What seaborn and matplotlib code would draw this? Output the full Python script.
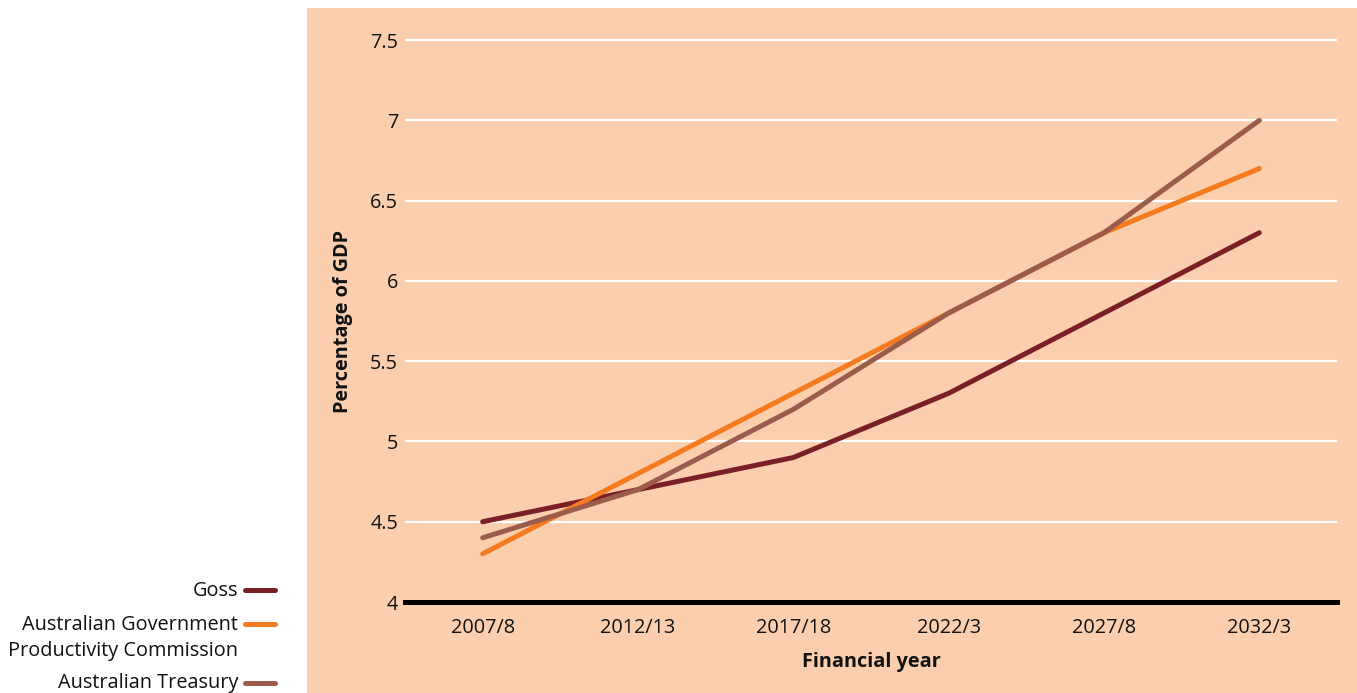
import matplotlib
matplotlib.use("Agg")
import matplotlib.pyplot as plt
from matplotlib.patches import Rectangle
from matplotlib.lines import Line2D
import seaborn as sns
import pandas as pd

years = ["2007/8", "2012/13", "2017/18", "2022/3", "2027/8", "2032/3"]
goss = [4.5, 4.7, 4.9, 5.3, 5.8, 6.3]
productivity = [4.3, 4.8, 5.3, 5.8, 6.3, 6.7]
treasury = [4.4, 4.7, 5.2, 5.8, 6.3, 7.0]
series_names = ["Goss", "Australian Government Productivity Commission", "Australian Treasury"]
legend_lines = [["Goss"], ["Australian Government", "Productivity Commission"], ["Australian Treasury"]]
y_ticks = [4, 4.5, 5, 5.5, 6, 6.5, 7, 7.5]
y_tick_labels = ["4", "4.5", "5", "5.5", "6", "6.5", "7", "7.5"]

peach = "#FBCFAE"
colors = ["#7A1F26", "#F47B20", "#9C5C4C"]
ink = "#111111"
fs = 14.3

df = pd.DataFrame({
    "year": years * 3,
    "value": goss + productivity + treasury,
    "series": [series_names[0]] * 6 + [series_names[1]] * 6 + [series_names[2]] * 6,
})

sns.set_theme(style="white")
plt.rcParams["font.family"] = ["Open Sans", "DejaVu Sans"]

W, H = 1357, 693
fig = plt.figure(figsize=(W / 100, H / 100), dpi=100)
fig.patch.set_facecolor("white")
# peach panel behind the plot area, tick labels and axis titles
fig.add_artist(Rectangle((307 / W, 0), 1 - 307 / W, 1 - 8 / H,
                         transform=fig.transFigure, facecolor=peach,
                         edgecolor="none", zorder=-10))

ax = fig.add_axes([405 / W, 1 - 602 / H, (1337 - 405) / W, (602 - 8) / H])
ax.set_facecolor("none")
ax.set_zorder(1)

sns.lineplot(data=df, x="year", y="value", hue="series", palette=colors,
             sort=False, linewidth=3.6, ax=ax, legend=False, zorder=3)
for line in ax.lines:
    line.set_solid_capstyle("round")

ax.set_xlim(-0.5, len(years) - 0.5)
ax.set_ylim(4, 7.7)
ax.set_yticks(y_ticks)
ax.set_yticklabels(y_tick_labels)
ax.yaxis.grid(True, color="white", linewidth=1.6)
ax.set_axisbelow(True)
for s in ["top", "right", "left"]:
    ax.spines[s].set_visible(False)
ax.spines["bottom"].set_color("black")
ax.spines["bottom"].set_linewidth(3.6)
ax.spines["bottom"].set_zorder(4)
ax.tick_params(axis="both", length=0, labelsize=fs, colors=ink)
ax.tick_params(axis="y", pad=5)
ax.tick_params(axis="x", pad=11.5)

ax.set_xlabel("Financial year", fontsize=fs, fontweight="bold", color=ink)
ax.set_ylabel("Percentage of GDP", fontsize=fs, fontweight="bold", color=ink)
ax.xaxis.set_label_coords(0.5, -0.085)
ax.yaxis.set_label_coords(-0.0555, 0.473)

# legend: right-aligned labels, line key beside the first text line
baselines = [[596], [630, 656], [688]]
key_rows = [590, 624, 683]
for lines, base, color, row in zip(legend_lines, baselines, colors, key_rows):
    for txt, b in zip(lines, base):
        fig.text(238 / W, 1 - b / H, txt, ha="right", va="baseline",
                 fontsize=fs, color=ink, transform=fig.transFigure)
    fig.add_artist(Line2D([245 / W, 275 / W], [1 - row / H, 1 - row / H],
                          color=color, linewidth=3.6,
                          transform=fig.transFigure))

fig.savefig("out.png", dpi=100)
